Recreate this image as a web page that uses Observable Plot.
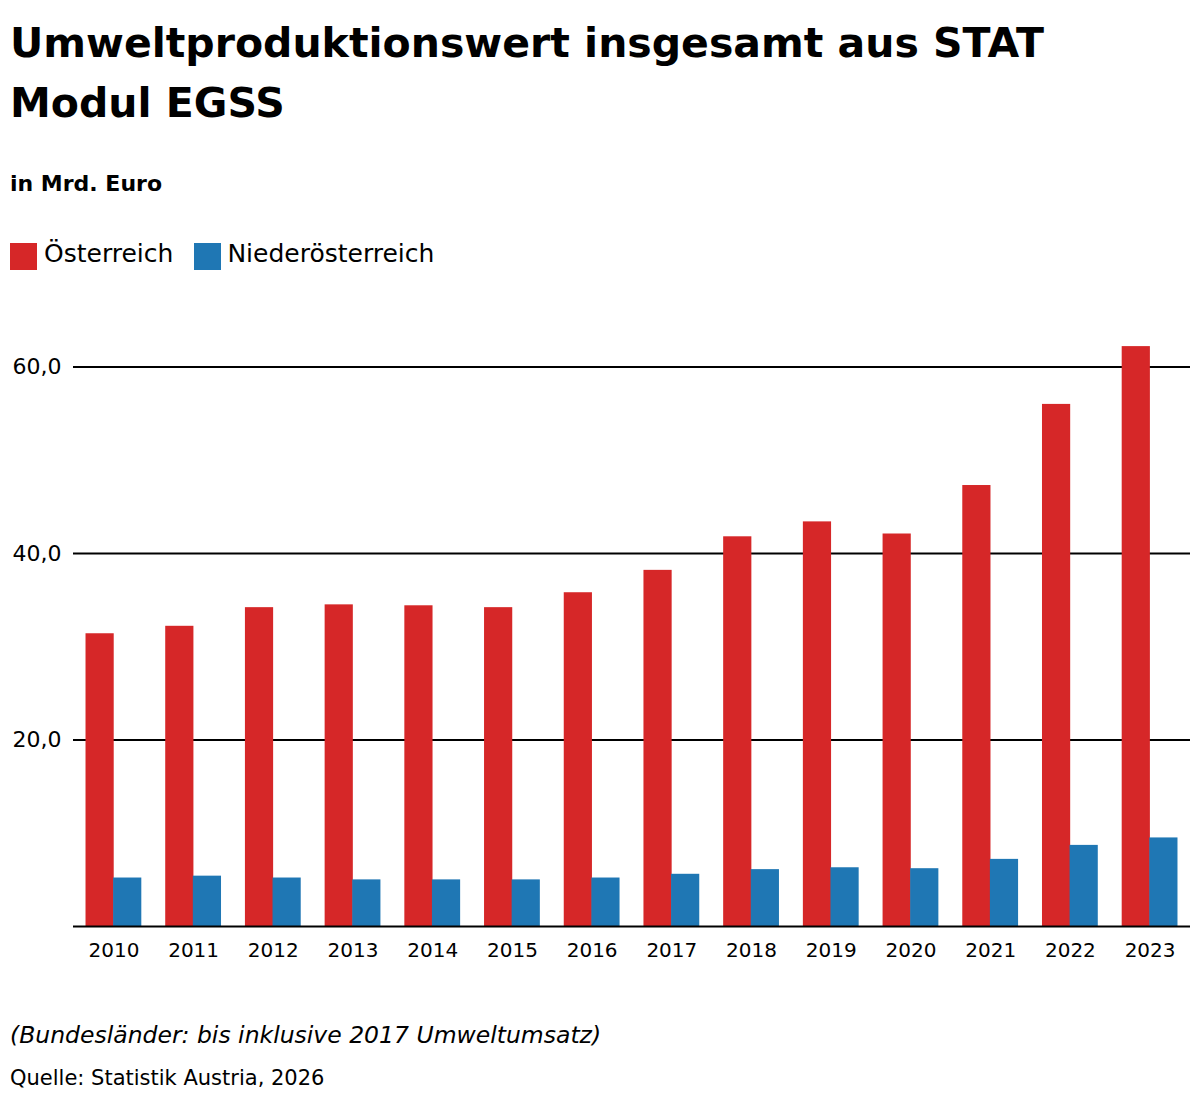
<!DOCTYPE html>
<html>
<head>
<meta charset="utf-8">
<script src="https://cdn.jsdelivr.net/npm/d3@7"></script>
<script src="https://cdn.jsdelivr.net/npm/@observablehq/plot@0.6"></script>
<style>
  html, body { margin: 0; padding: 0; background: #fff; }
  body { width: 1200px; height: 1106px; position: relative; font-family: "DejaVu Sans", sans-serif; color: #000; }
  #title { position: absolute; left: 10px; top: 13px; font-size: 41px; font-weight: 700; line-height: 60px; margin: 0; white-space: nowrap; }
  #subtitle { position: absolute; left: 10px; top: 171px; font-size: 22px; font-weight: 700; margin: 0; line-height: normal; }
  #legend { position: absolute; left: 10px; top: 239px; display: flex; align-items: flex-start; font-size: 25px; line-height: normal; }
  .sw { width: 27px; height: 27px; display: inline-block; margin-right: 7px; margin-top: 4px; }
  .item { display: flex; align-items: flex-start; margin-right: 21px; }
  .item:last-child .sw { margin-right: 6px; }
  #chart { position: absolute; left: 0; top: 300px; }
  #note { position: absolute; left: 10px; top: 1021px; font-size: 23.5px; font-style: italic; line-height: normal; }
  #source { position: absolute; left: 10px; top: 1066px; font-size: 21px; line-height: normal; }
</style>
</head>
<body>
<div id="title"></div>
<div id="subtitle"></div>
<div id="legend"></div>
<div id="chart"></div>
<div id="note"></div>
<div id="source"></div>
<script>
const titleLines = ["Umweltproduktionswert insgesamt aus STAT", "Modul EGSS"];
const subtitle = "in Mrd. Euro";
const note = "(Bundesländer: bis inklusive 2017 Umweltumsatz)";
const source = "Quelle: Statistik Austria, 2026";

const years = ["2010","2011","2012","2013","2014","2015","2016","2017","2018","2019","2020","2021","2022","2023"];
const seriesNames = ["Österreich", "Niederösterreich"];
const seriesColors = ["#d62728", "#1f77b4"];
const oesterreich = [31.4, 32.2, 34.2, 34.5, 34.4, 34.2, 35.8, 38.2, 41.8, 43.4, 42.1, 47.3, 56.0, 62.2];
const niederoesterreich = [5.2, 5.4, 5.2, 5.0, 5.0, 5.0, 5.2, 5.6, 6.1, 6.3, 6.2, 7.2, 8.7, 9.5];
const yTicks = [20, 40, 60];

document.getElementById("title").innerHTML = titleLines.join("<br>");
document.getElementById("subtitle").textContent = subtitle;
document.getElementById("note").textContent = note;
document.getElementById("source").textContent = source;
const legend = document.getElementById("legend");
seriesNames.forEach((n, i) => {
  const it = document.createElement("div");
  it.className = "item";
  const sw = document.createElement("span");
  sw.className = "sw";
  sw.style.background = seriesColors[i];
  const t = document.createElement("span");
  t.textContent = n;
  it.appendChild(sw); it.appendChild(t);
  legend.appendChild(it);
});

const dataA = years.map((y, i) => ({year: y, value: oesterreich[i]}));
const dataB = years.map((y, i) => ({year: y, value: niederoesterreich[i]}));

const width = 1200, marginLeft = 73, marginRight = 10;
const pIn = 0.3, pOut = 0.157;
const step = (width - marginLeft - marginRight) / (years.length - pIn + 2 * pOut);
const half = step * (1 - pIn) / 2;
const fmt = d3.format(".1f");

const chart = Plot.plot({
  width,
  height: 676,
  marginLeft,
  marginRight,
  marginTop: 20,
  marginBottom: 50,
  style: { fontFamily: "'DejaVu Sans', sans-serif", fontSize: "20px", color: "#000", background: "#fff" },
  x: { type: "band", domain: years, paddingInner: pIn, paddingOuter: pOut, round: false, label: null, tickSize: 0, tickPadding: 16 },
  y: { domain: [0, 65], ticks: yTicks, label: null, tickSize: 0, tickPadding: 12, tickFormat: d => fmt(d).replace(".", ",") },
  marks: [
    Plot.ruleY(yTicks, { stroke: "#000", strokeWidth: 2 }),
    Plot.barY(dataA, { x: "year", y: "value", fill: seriesColors[0], insetLeft: 0, insetRight: half - 0.3 }),
    Plot.barY(dataB, { x: "year", y: "value", fill: seriesColors[1], insetLeft: half - 0.3, insetRight: 0 }),
    Plot.axisX({ tickSize: 0, tickPadding: 16, fontSize: 20, label: null }),
    Plot.axisY(yTicks, { tickSize: 0, tickPadding: 12, fontSize: 22, label: null, tickFormat: d => fmt(d).replace(".", ",") }),
    Plot.ruleY([0], { stroke: "#000", strokeWidth: 2 })
  ]
});
document.getElementById("chart").appendChild(chart);
</script>
</body>
</html>
